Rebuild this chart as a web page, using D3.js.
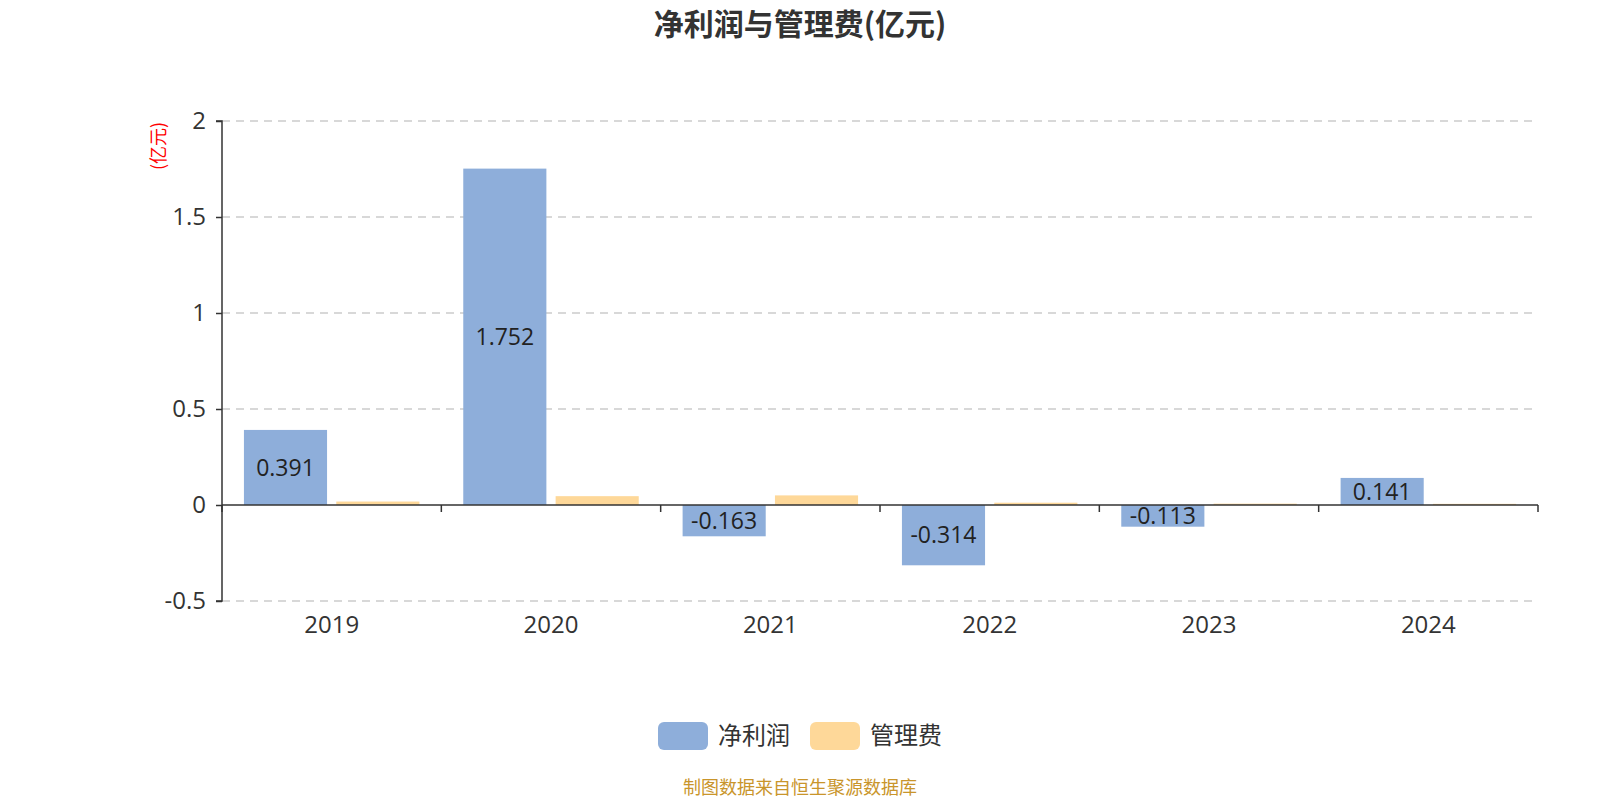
<!DOCTYPE html>
<html>
<head>
<meta charset="utf-8">
<script src="https://cdn.jsdelivr.net/npm/d3@7"></script>
<style>
  body { margin: 0; background: #fff; }
  text { font-family: "Noto Sans CJK SC", "Noto Sans", sans-serif; }
  .num { font-family: "Open Sans", "Noto Sans", sans-serif; }
</style>
</head>
<body>
<div id="chart"></div>
<script>
// data
var years = ["2019", "2020", "2021", "2022", "2023", "2024"];
var netProfit = [0.391, 1.752, -0.163, -0.314, -0.113, 0.141];
var adminFee = [0.018, 0.046, 0.050, 0.012, 0.007, 0.006];
var seriesNames = ["净利润", "管理费"];
var yTicks = [-0.5, 0, 0.5, 1, 1.5, 2];

var colors = ["#8eaeda", "#fed899"];

var svgWidth = 1600;
var svgHeight = 800;

var margin = { top: 121, bottom: 199, left: 222, right: 62 };
var width = svgWidth - margin.left - margin.right;
var height = svgHeight - margin.top - margin.bottom;

var svg = d3.select("#chart")
    .append("svg")
    .attr("width", svgWidth)
    .attr("height", svgHeight);

var chartGroup = svg.append("g")
    .attr("transform", `translate(${margin.left}, ${margin.top})`);

// scales
var xScale = d3.scaleBand()
    .domain(years)
    .range([0, width]);

var bw = xScale.bandwidth();
var xInner = d3.scaleBand()
    .domain([0, 1])
    .range([bw * 0.1, bw * 0.9])
    .paddingInner(0.1);

var yScale = d3.scaleLinear()
    .domain([-0.5, 2])
    .range([height, 0]);

// dashed grid lines
chartGroup.selectAll(".grid")
    .data(yTicks.filter(d => d !== 0))
    .enter()
    .append("line")
    .attr("x1", 0)
    .attr("x2", width)
    .attr("y1", d => yScale(d))
    .attr("y2", d => yScale(d))
    .attr("stroke", "#cccccc")
    .attr("stroke-width", 1.3)
    .attr("stroke-dasharray", "8,6");

// bars
var table = years.map((y, i) => ({ year: y, values: [netProfit[i], adminFee[i]] }));

var groups = chartGroup.selectAll(".cat")
    .data(table)
    .enter()
    .append("g")
    .attr("transform", d => `translate(${xScale(d.year)}, 0)`);

groups.selectAll("rect")
    .data(d => d.values.map((v, k) => ({ k: k, v: v })))
    .enter()
    .append("rect")
    .attr("x", d => xInner(d.k))
    .attr("width", xInner.bandwidth())
    .attr("y", d => yScale(Math.max(0, d.v)))
    .attr("height", d => Math.abs(yScale(d.v) - yScale(0)))
    .attr("fill", d => colors[d.k]);

// value labels inside the net profit bars
groups.append("text")
    .attr("class", "num")
    .attr("x", xInner(0) + xInner.bandwidth() / 2)
    .attr("y", d => (yScale(d.values[0]) + yScale(0)) / 2)
    .attr("dy", "0.36em")
    .attr("text-anchor", "middle")
    .style("font-size", "23px")
    .style("fill", "#222")
    .text(d => d.values[0]);

// y axis
var leftAxis = d3.axisLeft(yScale)
    .tickValues(yTicks)
    .tickSize(6)
    .tickPadding(10)
    .tickFormat(d => String(d));

var yAxisG = chartGroup.append("g").call(leftAxis);
yAxisG.select(".domain").attr("stroke", "#333").attr("stroke-width", 1.5).attr("d", `M-6,0H0V${height}H-6`);
yAxisG.selectAll(".tick line").attr("stroke", "#333").attr("stroke-width", 1.5);
yAxisG.selectAll("text").attr("class", "num").style("font-size", "24px").style("fill", "#333");

// zero line with category boundary ticks
chartGroup.append("line")
    .attr("x1", 0)
    .attr("x2", width)
    .attr("y1", yScale(0))
    .attr("y2", yScale(0))
    .attr("stroke", "#333")
    .attr("stroke-width", 1.5);

chartGroup.selectAll(".xtick")
    .data(years.map(y => xScale(y)).concat([width]))
    .enter()
    .append("line")
    .attr("x1", d => d)
    .attr("x2", d => d)
    .attr("y1", yScale(0))
    .attr("y2", yScale(0) + 7)
    .attr("stroke", "#333")
    .attr("stroke-width", 1.5);

// x labels at the bottom
var bottomAxis = d3.axisBottom(xScale).tickSize(0).tickPadding(15);
var xAxisG = chartGroup.append("g")
    .attr("transform", `translate(0, ${height})`)
    .call(bottomAxis);
xAxisG.select(".domain").remove();
xAxisG.selectAll("text").attr("class", "num").style("font-size", "24px").style("fill", "#333");

// unit label
svg.append("text")
    .attr("transform", "translate(159, 146) rotate(-90)")
    .attr("text-anchor", "middle")
    .attr("dy", "0.35em")
    .style("font-size", "18px")
    .style("fill", "#ff0000")
    .text("(亿元)");

// title
svg.append("text")
    .attr("x", svgWidth / 2)
    .attr("y", 24)
    .attr("dy", "0.35em")
    .attr("text-anchor", "middle")
    .style("font-size", "30px")
    .style("font-weight", "bold")
    .style("fill", "#333")
    .text("净利润与管理费(亿元)");

// legend
var legendX = [658, 810];
var legend = svg.selectAll(".legend")
    .data(seriesNames)
    .enter()
    .append("g")
    .attr("transform", (d, i) => `translate(${legendX[i]}, 722)`);

legend.append("rect")
    .attr("width", 50)
    .attr("height", 28)
    .attr("rx", 6)
    .attr("fill", (d, i) => colors[i]);

legend.append("text")
    .attr("x", 60)
    .attr("y", 14)
    .attr("dy", "0.35em")
    .style("font-size", "24px")
    .style("fill", "#333")
    .text(d => d);

// source note
svg.append("text")
    .attr("x", svgWidth / 2)
    .attr("y", 788)
    .attr("dy", "0.35em")
    .attr("text-anchor", "middle")
    .style("font-size", "18px")
    .style("fill", "#c9952b")
    .text("制图数据来自恒生聚源数据库");
</script>
</body>
</html>
